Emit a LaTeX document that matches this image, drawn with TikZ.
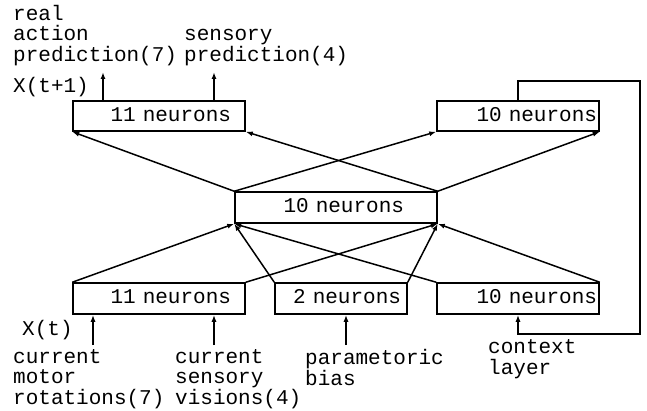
\documentclass[tikz,border=0pt]{standalone}
\usepackage{fontspec}
\setmainfont{Liberation Mono}
\usetikzlibrary{arrows.meta}
\newcommand{\monofix}{\fontsize{21}{20.5}\selectfont\fontdimen2\font=12.6pt\fontdimen3\font=0pt\fontdimen4\font=0pt\relax}
\begin{document}
\begin{tikzpicture}[x=1pt,y=-1pt,
  every node/.style={font=\monofix},
  box/.style n args={3}{draw, line width=1.5pt, minimum height=30, inner ysep=2pt,
     inner xsep=#2, text width=#1-2*#2, align=right, minimum width=#1, text height=#3},
  arr/.style={line width=1.5pt, -{Latex[length=7pt,width=5pt]}},
  lbl/.style={anchor=base west, inner sep=0pt, align=left}]
\useasboundingbox (0,0) rectangle (647,411);
% boxes
\node[box={172pt}{14pt}{11pt}] (tl) at (159,116) {11 neurons};
\node[box={162pt}{2pt}{11pt}] (tr) at (518,116) {10 neurons};
\node[box={202pt}{33pt}{11pt}, minimum height=31] (mid) at (336,207.5) {10 neurons};
\node[box={172pt}{14pt}{11pt}, minimum height=31] (bl) at (159,298.5) {11 neurons};
\node[box={132pt}{6pt}{11pt}, minimum height=31] (bm) at (341,298.5) {2 neurons};
\node[box={162pt}{2pt}{11pt}, minimum height=31] (br) at (518,298.5) {10 neurons};
% hidden-to-output
\draw[arr] (mid.north west) -- (tl.south west);
\draw[arr] (mid.north west) -- (tr.south west);
\draw[arr] (mid.north east) -- (tl.south east);
\draw[arr] (mid.north east) -- (tr.south east);
% input-to-hidden
\draw[arr] (bl.north west) -- (mid.south west);
\draw[arr] (bl.north east) -- (mid.south east);
\draw[arr] (bm.north west) -- (mid.south west);
\draw[arr] (bm.north east) -- (mid.south east);
\draw[arr] (br.north west) -- (mid.south west);
\draw[arr] (br.north east) -- (mid.south east);
% outputs
\coordinate (o1) at (103,72);
\coordinate (o2) at (214,72);
\draw[arr] (o1 |- tl.north) -- (o1);
\draw[arr] (o2 |- tl.north) -- (o2);
% inputs
\coordinate (i1) at (93,345);
\coordinate (i2) at (214,345);
\coordinate (i3) at (346,345);
\draw[arr] (i1) -- (i1 |- bl.south);
\draw[arr] (i2) -- (i2 |- bl.south);
\draw[arr] (i3) -- (i3 |- bm.south);
% context feedback
\coordinate (fbA) at (640,81);
\coordinate (fbB) at (640,334);
\draw[arr] (tr.north) |- (fbA) -- (fbB) -| (br.south);
% labels (anchor = baseline of the last line)
\node[lbl] (t1) at (13,61.5) {real\\action\\prediction(7)};
\node[lbl] (t2) at (184,61.5) {sensory\\prediction(4)};
\node[lbl] (t3) at (13,93) {X(t+1)};
\node[lbl] (t4) at (22,335) {X(t)};
\node[lbl] (t5) at (13,404) {current\\motor\\rotations(7)};
\node[lbl] (t6) at (175,404) {current\\sensory\\visions(4)};
\node[lbl] (t7) at (305,385) {parametoric\\bias};
\node[lbl] (t8) at (488,374) {context\\layer};
\end{tikzpicture}
\end{document}
